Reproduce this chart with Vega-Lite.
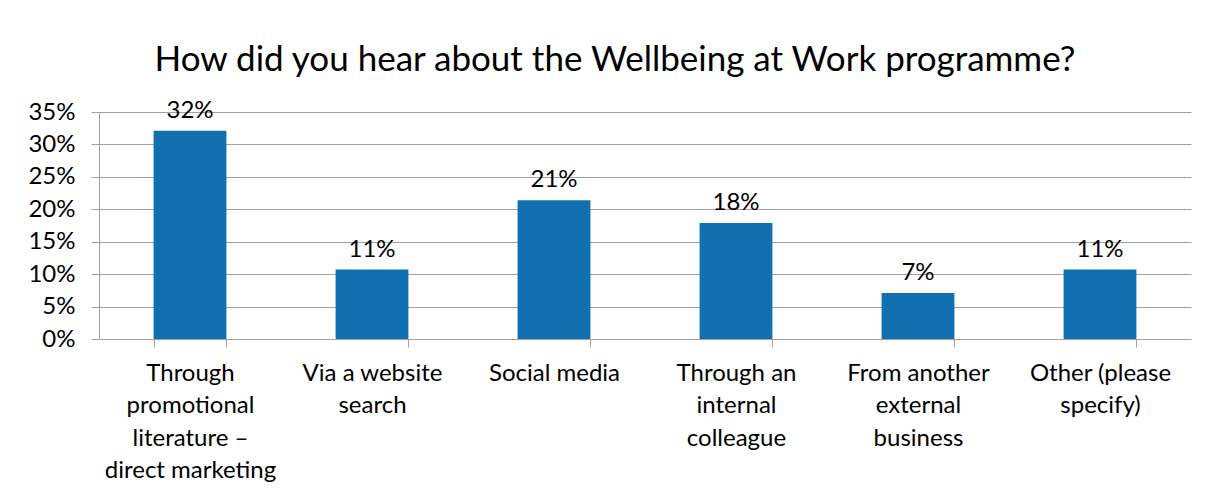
{
  "$schema": "https://vega.github.io/schema/vega-lite/v6.json",
  "autosize": {"type": "none"},
  "width": 1092,
  "height": 227,
  "padding": {"left": 99, "top": 112, "right": 23, "bottom": 157},
  "background": "white",
  "title": {
    "text": "How did you hear about the Wellbeing at Work programme?",
    "font": "Lato",
    "fontSize": 35,
    "fontWeight": "normal",
    "color": "#000000",
    "anchor": "middle",
    "dx": -30,
    "offset": 21
  },
  "data": {
    "values": [
      {"source": "Through|promotional|literature –|direct marketing", "share": 0.321},
      {"source": "Via a website|search", "share": 0.107},
      {"source": "Social media", "share": 0.214},
      {"source": "Through an|internal|colleague", "share": 0.179},
      {"source": "From another|external|business", "share": 0.071},
      {"source": "Other (please|specify)", "share": 0.107}
    ]
  },
  "encoding": {
    "x": {
      "field": "source",
      "type": "nominal",
      "sort": null,
      "scale": {"paddingInner": 0.6, "paddingOuter": 0.3},
      "axis": {
        "title": null,
        "labelAngle": 0,
        "labelExpr": "split(datum.label, '|')",
        "labelFont": "Lato",
        "labelFontSize": 24,
        "labelColor": "#000000",
        "labelLineHeight": 32.5,
        "labelPadding": 14,
        "labelLimit": 400,
        "tickBand": "extent",
        "tickSize": 8,
        "tickColor": "#a0a0a0",
        "domainColor": "#a0a0a0",
        "grid": false
      }
    },
    "y": {
      "field": "share",
      "type": "quantitative",
      "scale": {"domain": [0, 0.35], "nice": false},
      "axis": {
        "title": null,
        "format": ".0%",
        "values": [0, 0.05, 0.1, 0.15, 0.2, 0.25, 0.3, 0.35],
        "labelFont": "Lato",
        "labelFontSize": 24,
        "labelColor": "#000000",
        "labelPadding": 16,
        "tickSize": 8,
        "tickColor": "#a0a0a0",
        "domainColor": "#a0a0a0",
        "grid": true,
        "gridColor": "#a0a0a0",
        "gridOpacity": 1
      }
    }
  },
  "layer": [
    {"mark": {"type": "bar", "color": "#1170b0"}},
    {
      "mark": {"type": "text", "baseline": "bottom", "dy": -8, "font": "Lato", "fontSize": 24, "color": "#000000"},
      "encoding": {"text": {"field": "share", "type": "quantitative", "format": ".0%"}}
    }
  ],
  "config": {"view": {"stroke": null}}
}
